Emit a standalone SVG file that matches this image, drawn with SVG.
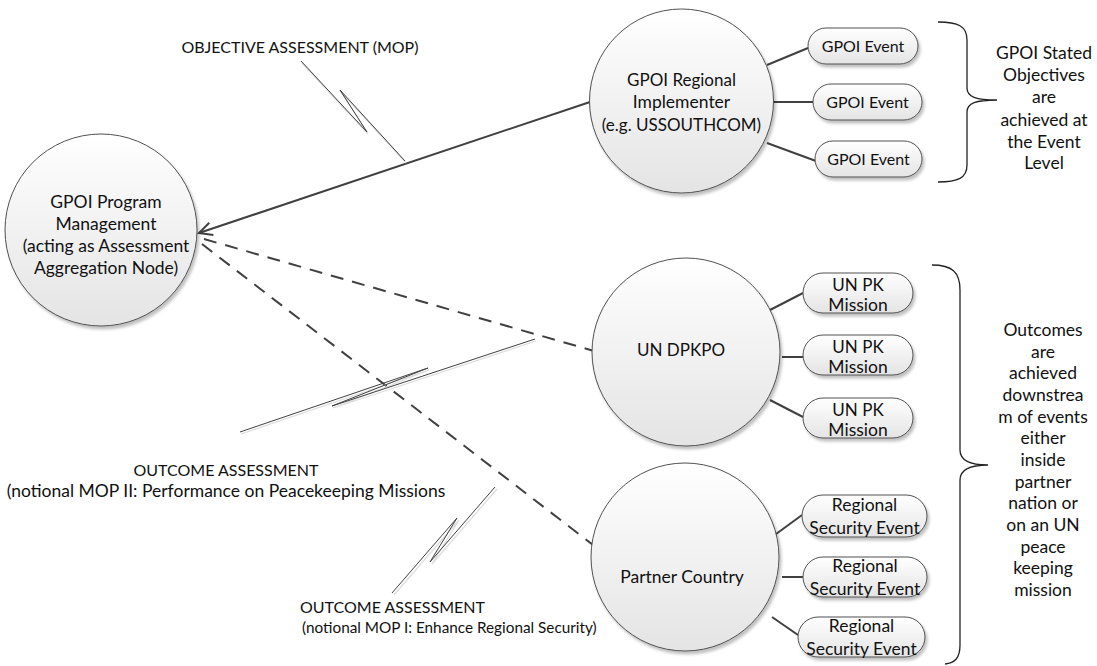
<svg xmlns="http://www.w3.org/2000/svg" width="1097" height="666" viewBox="0 0 1097 666">
<defs>
<linearGradient id="gf" x1="0" y1="0" x2="0" y2="1">
<stop offset="0" stop-color="#ffffff"/>
<stop offset="1" stop-color="#e4e4e4"/>
</linearGradient>
<filter id="sh" x="-20%" y="-20%" width="140%" height="140%">
<feGaussianBlur in="SourceAlpha" stdDeviation="1.5"/>
<feOffset dx="2" dy="2.5" result="b"/>
<feComponentTransfer><feFuncA type="linear" slope="0.25"/></feComponentTransfer>
<feMerge><feMergeNode/><feMergeNode in="SourceGraphic"/></feMerge>
</filter>
<marker id="arr" markerUnits="userSpaceOnUse" markerWidth="20" markerHeight="20" viewBox="-16 -10 20 20" refX="0" refY="0" orient="auto">
<path d="M-13,-6.5 L0,0 L-13,6.5" fill="none" stroke="#404040" stroke-width="2"/>
</marker>
<style>
.node{fill:url(#gf);stroke:#505050;stroke-width:1;filter:url(#sh)}
.t{font-family:Lato,"Liberation Sans",sans-serif;font-size:17.5px;fill:#111;text-anchor:middle}
.ts{font-family:Lato,"Liberation Sans",sans-serif;font-size:17.5px;fill:#111}
.m{font-size:17px}
.c{font-size:16px}
.sm{font-size:15.3px}
.link{stroke:#404040;stroke-width:2;fill:none}
.dash{stroke:#404040;stroke-width:2;fill:none;stroke-dasharray:13 9}
.co{stroke:#404040;stroke-width:1;fill:none;stroke-linejoin:miter}
.cos{stroke:#dcdcdc;stroke-width:1.2;fill:none}
.br{stroke:#222;stroke-width:1.3;fill:none}
</style>
</defs>
<rect width="1097" height="666" fill="#ffffff"/>

<g id="connectors">
<line class="link" x1="590" y1="102" x2="199" y2="233" marker-end="url(#arr)"/>
<line class="dash" x1="204" y1="239" x2="594" y2="351"/>
<line class="dash" x1="202" y1="244" x2="597" y2="548"/>
<line class="link" x1="767" y1="65" x2="808" y2="48"/>
<line class="link" x1="773" y1="102" x2="813" y2="102"/>
<line class="link" x1="767" y1="143" x2="816" y2="161"/>
<line class="link" x1="770" y1="310" x2="803" y2="293"/>
<line class="link" x1="782" y1="357" x2="803" y2="357"/>
<line class="link" x1="770" y1="400" x2="803" y2="417"/>
<line class="link" x1="772" y1="537" x2="802" y2="515"/>
<line class="link" x1="782" y1="577" x2="803" y2="577"/>
<line class="link" x1="772" y1="617" x2="798" y2="635"/>
</g>

<g id="callouts">
<polyline class="cos" points="302,63 368,134 341,92 406,163"/>
<polyline class="co" points="301,61 367,132 340,90 405,161"/>
<polyline class="cos" points="241,434 429,370 333,408 536,341"/>
<polyline class="co" points="240,432 428,368 332,406 535,339"/>
<polyline class="cos" points="394,595 459,520 432,564 497,489"/>
<polyline class="co" points="392,593 457,518 430,562 495,487"/>
<text class="t c" x="300" y="52.5">OBJECTIVE ASSESSMENT (MOP)</text>
<text class="t c" x="226" y="475.5">OUTCOME ASSESSMENT</text>
<text class="t" x="226" y="496.5">(notional MOP II: Performance on Peacekeeping Missions</text>
<text class="ts c" x="300" y="612.5">OUTCOME ASSESSMENT</text>
<text class="ts sm" x="302" y="633">(notional MOP I: Enhance Regional Security)</text>
</g>

<g id="n-program">
<circle class="node" cx="101" cy="230" r="96"/>
<text class="t" x="106" y="207.5">GPOI Program</text>
<text class="t" x="106" y="229.5">Management</text>
<text class="t" x="106" y="251.5">(acting as Assessment</text>
<text class="t" x="106" y="273.5">Aggregation Node)</text>
</g>

<g id="n-regional">
<circle class="node" cx="681.5" cy="101" r="92"/>
<text class="t m" x="681.5" y="85.5">GPOI Regional</text>
<text class="t" x="681.5" y="107.5">Implementer</text>
<text class="t m" x="681.5" y="130.5">(e.g. USSOUTHCOM)</text>
</g>

<g id="n-dpkpo">
<circle class="node" cx="686" cy="352" r="94"/>
<text class="t m" x="681" y="355.5">UN DPKPO</text>
</g>

<g id="n-partner">
<circle class="node" cx="685" cy="557" r="94"/>
<text class="t" x="682" y="582.5">Partner Country</text>
</g>

<g id="n-event1"><rect class="node" x="808" y="28" width="110" height="36" rx="18"/><text class="t c" x="863" y="51.5">GPOI Event</text></g>
<g id="n-event2"><rect class="node" x="813" y="84" width="109" height="36" rx="18"/><text class="t c" x="867.5" y="107.5">GPOI Event</text></g>
<g id="n-event3"><rect class="node" x="815" y="141" width="107" height="36" rx="18"/><text class="t c" x="868.5" y="164.5">GPOI Event</text></g>

<g id="n-un1"><rect class="node" x="803" y="273" width="110" height="40" rx="20"/><text class="t m" x="858" y="290.5">UN PK</text><text class="t" x="858" y="310.5">Mission</text></g>
<g id="n-un2"><rect class="node" x="803" y="335" width="110" height="40" rx="20"/><text class="t m" x="858" y="352.5">UN PK</text><text class="t" x="858" y="372.5">Mission</text></g>
<g id="n-un3"><rect class="node" x="803" y="398" width="110" height="40" rx="20"/><text class="t m" x="858" y="415.5">UN PK</text><text class="t" x="858" y="435.5">Mission</text></g>

<g id="n-sec1"><rect class="node" x="802" y="495" width="125" height="42" rx="21"/><text class="t" x="864.5" y="510.5">Regional</text><text class="t" x="864.5" y="533.5">Security Event</text></g>
<g id="n-sec2"><rect class="node" x="803" y="557" width="124" height="40" rx="20"/><text class="t" x="865" y="571.5">Regional</text><text class="t" x="865" y="594.5">Security Event</text></g>
<g id="n-sec3"><rect class="node" x="798" y="617" width="127" height="40" rx="20"/><text class="t" x="861.5" y="631.5">Regional</text><text class="t" x="861.5" y="654.5">Security Event</text></g>

<g id="brace1">
<path class="br" d="M938,22 C958,22 967,26 967,40 L967,88 C967,97 976,100 997,100 C976,100 967,103 967,112 L967,165 C967,178 958,182 938,182"/>
<text class="t" x="1044" y="58.5">GPOI Stated</text>
<text class="t" x="1044" y="80.5">Objectives</text>
<text class="t" x="1044" y="102.5">are</text>
<text class="t" x="1044" y="125.5">achieved at</text>
<text class="t" x="1044" y="147.5">the Event</text>
<text class="t" x="1044" y="168.5">Level</text>
</g>

<g id="brace2">
<path class="br" d="M932,265 C952,265 960,272 960,290 L960,450 C960,460 970,465 988,465 C970,465 960,470 960,480 L960,645 C960,658 955,663 945,664"/>
<text class="t" x="1043" y="335.5">Outcomes</text>
<text class="t" x="1043" y="357.5">are</text>
<text class="t" x="1043" y="378.5">achieved</text>
<text class="t" x="1043" y="400.5">downstrea</text>
<text class="t" x="1043" y="422.5">m of events</text>
<text class="t" x="1043" y="443.5">either</text>
<text class="t" x="1043" y="465.5">inside</text>
<text class="t" x="1043" y="487.5">partner</text>
<text class="t" x="1043" y="508.5">nation or</text>
<text class="t" x="1043" y="530.5">on an UN</text>
<text class="t" x="1043" y="552.5">peace</text>
<text class="t" x="1043" y="573.5">keeping</text>
<text class="t" x="1043" y="595.5">mission</text>
</g>
</svg>
